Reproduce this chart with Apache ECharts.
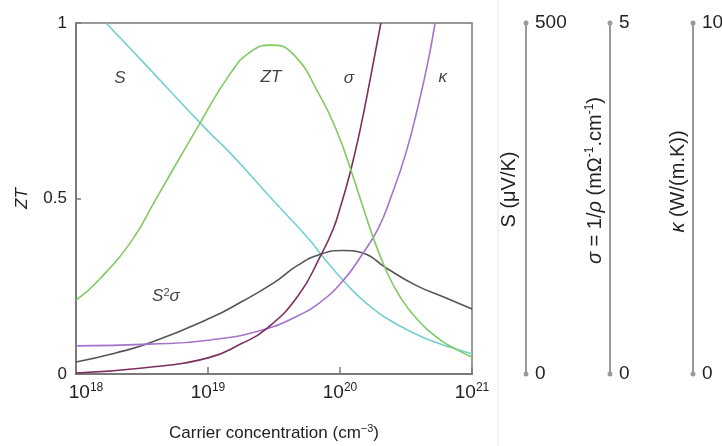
<!DOCTYPE html>
<html><head><meta charset="utf-8">
<script src="https://cdn.jsdelivr.net/npm/echarts@6/dist/echarts.min.js"></script>
<style>html,body{margin:0;padding:0;background:#fff}#c{width:722px;height:446px}</style>
</head><body><div id="c"></div>
<script>
// Carrier concentration (cm^-3) and values
const ztN = [1e18, 1.51e18, 2.7e18, 4e18, 8.7e18, 1.47e19, 2.1e19, 3.0e19, 4.4e19, 7.1e19, 9.5e19, 1.2e20, 1.48e20, 1.78e20, 2.24e20, 2.8e20, 3.8e20, 5.75e20, 7.8e20, 1e21];
const ztV = [0.21, 0.27, 0.385, 0.496, 0.715, 0.855, 0.918, 0.937, 0.912, 0.79, 0.69, 0.585, 0.48, 0.39, 0.295, 0.225, 0.158, 0.097, 0.068, 0.048];

const sN = [1.69e18, 3.16e18, 1e19, 1.47e19, 3.16e19, 5.9e19, 7.2e19, 1.05e20, 1.58e20, 2.8e20, 5.0e20, 9.1e20, 1e21];
const sV = [500, 446, 346, 315, 246, 191, 170, 134, 101, 69, 47, 31, 29];          // µV/K

const sigN = [1e18, 3.2e18, 1e19, 1.78e19, 2.75e19, 4.8e19, 7.2e19, 8.9e19, 1e20, 1.19e20, 1.41e20, 1.69e20, 2.04e20];
const sigV = [0.015, 0.085, 0.23, 0.43, 0.64, 1.11, 1.70, 2.07, 2.36, 2.86, 3.45, 4.19, 5.0]; // mΩ^-1 cm^-1

const kapN = [1e18, 3.6e18, 1.05e19, 2.75e19, 4.8e19, 6.8e19, 1.05e20, 1.48e20, 1.95e20, 2.4e20, 3.16e20, 4.0e20, 4.7e20, 5.25e20];
const kapV = [0.8, 0.85, 0.97, 1.28, 1.66, 1.99, 2.65, 3.42, 4.15, 4.98, 6.3, 7.8, 9.0, 10];      // W/(m K)

const s2sN = [1e18, 2.0e18, 3.6e18, 1.05e19, 1.78e19, 3.1e19, 4.8e19, 7.2e19, 1.05e20, 1.48e20, 2.24e20, 3.7e20, 6.3e20, 1e21];
const s2sV = [0.034, 0.06, 0.088, 0.16, 0.205, 0.258, 0.31, 0.342, 0.352, 0.345, 0.302, 0.254, 0.217, 0.185];

const xTickExps = [18, 19, 20, 21];
const yTicks = [0, 0.5, 1];

const curveLabels = ['S', 'ZT', 'σ', 'κ', 'S{sup|2}σ'];
const curveLabelN = [2.15e18, 3.0e19, 1.17e20, 6.0e20, 4.8e18];
const curveLabelV = [0.843, 0.846, 0.843, 0.846, 0.222];

const zip = (a, b) => a.map((v, i) => [v, b[i]]);
const AX = '#7a7a7a', SIDE = '#9a9a9a', TXT = '#222';
const NARROW = '"Liberation Sans Narrow", "Arial Narrow", "Liberation Sans", sans-serif';
const sideAxis = (max, offset) => ({
  type: 'value', min: 0, max: max, interval: max, position: 'right', offset: offset,
  axisLine: { show: true, symbol: ['circle', 'circle'], symbolSize: [5, 5], lineStyle: { color: SIDE, width: 2 } },
  axisTick: { show: false }, splitLine: { show: false },
  axisLabel: { margin: 9, fontSize: 19, color: TXT },
  nameLocation: 'middle', nameRotate: 90, nameMoveOverlap: false
});
const lineS = (color) => ({ type: 'line', smooth: 0.5, symbol: 'none', lineStyle: { color: color, width: 1.6 } });

const chart = echarts.init(document.getElementById('c'));
chart.setOption({
  animation: false,
  backgroundColor: '#fff',
  textStyle: { fontFamily: '"Liberation Sans", Arial, sans-serif' },
  grid: { left: 76, right: 250, top: 23, bottom: 72, show: true, borderColor: AX, borderWidth: 1.5, containLabel: false, outerBoundsMode: 'none' },
  xAxis: {
    type: 'log', logBase: 10, min: 1e18, max: 1e21,
    axisLine: { lineStyle: { color: AX, width: 2 } },
    axisTick: { inside: true, length: 7, lineStyle: { color: AX, width: 1.5 } },
    minorTick: { show: false }, splitLine: { show: false },
    axisLabel: {
      margin: 8, color: TXT,
      formatter: v => {
        const e = Math.round(Math.log10(v));
        if (!xTickExps.includes(e)) return '';
        return (e === xTickExps[0] ? '{b0|10}' : '{b|10}') + '{sup|' + e + '}';
      },
      rich: {
        b: { fontSize: 19, fontFamily: NARROW, color: TXT, lineHeight: 21 },
        b0: { fontSize: 19, fontFamily: NARROW, color: TXT, lineHeight: 21, padding: [0, 0, 0, 20] },
        sup: { fontSize: 12, fontFamily: NARROW, color: TXT, verticalAlign: 'top', lineHeight: 12 }
      }
    },
    name: '{b|Carrier concentration (cm}{sup|−3}{b|)}', nameLocation: 'middle', nameGap: 49, nameMoveOverlap: false,
    nameTextStyle: {
      rich: { b: { fontSize: 17, fontFamily: NARROW, color: TXT, lineHeight: 20 }, sup: { fontSize: 11, fontFamily: NARROW, color: TXT, verticalAlign: 'top', lineHeight: 11 } }
    }
  },
  yAxis: [
    {
      type: 'value', min: 0, max: 1, interval: 0.5,
      axisLine: { show: true, lineStyle: { color: AX, width: 2 } },
      axisTick: { show: true, inside: true, length: 5, lineStyle: { color: AX, width: 1.5 } },
      splitLine: { show: false },
      axisLabel: { margin: 9, fontSize: 17, color: TXT, formatter: v => yTicks.includes(v) ? String(v) : '' },
      name: 'ZT', nameLocation: 'middle', nameGap: 45, nameRotate: 90, nameMoveOverlap: false,
      nameTextStyle: { fontSize: 17, fontStyle: 'italic', color: TXT }
    },
    Object.assign(sideAxis(500, 54), {
      name: 'S (μV/K)', nameGap: -27,
      nameTextStyle: { fontSize: 20, color: TXT, padding: [0, 0, 0, 18] }
    }),
    Object.assign(sideAxis(5, 138), {
      name: '{i|σ}{n| = 1/}{i|ρ}{n| (mΩ}{s|-1}{n|.cm}{s|-1}{n|)}', nameGap: -26,
      nameTextStyle: {
        padding: [0, 0, 0, 36],
        rich: {
          n: { fontSize: 20, color: TXT, lineHeight: 22 },
          i: { fontSize: 20, color: TXT, fontStyle: 'italic', lineHeight: 22 },
          s: { fontSize: 12, color: TXT, verticalAlign: 'top', lineHeight: 12 }
        }
      }
    }),
    Object.assign(sideAxis(10, 221), {
      name: '{i|κ}{n| (W/(m.K))}', nameGap: -26,
      nameTextStyle: {
        padding: [0, 0, 0, 34],
        rich: {
          n: { fontSize: 20, color: TXT, lineHeight: 22 },
          i: { fontSize: 20, color: TXT, fontStyle: 'italic', lineHeight: 22 }
        }
      }
    })
  ],
  graphic: [
    { type: 'line', shape: { x1: 498, y1: 0, x2: 498, y2: 446 }, style: { stroke: '#e4e4e4', lineWidth: 1 }, z: -1 }
  ],
  series: [
    Object.assign(lineS('#74d0d0'), { name: 'S', yAxisIndex: 1, data: zip(sN, sV) }),
    Object.assign(lineS('#555555'), { name: 'S2sigma', yAxisIndex: 0, data: zip(s2sN, s2sV) }),
    Object.assign(lineS('#a673cc'), { name: 'kappa', yAxisIndex: 3, data: zip(kapN, kapV) }),
    Object.assign(lineS('#7c2f5e'), { name: 'sigma', yAxisIndex: 2, data: zip(sigN, sigV) }),
    Object.assign(lineS('#7fca62'), { name: 'ZT', yAxisIndex: 0, data: zip(ztN, ztV) }),
    {
      type: 'scatter', yAxisIndex: 0, symbolSize: 1, itemStyle: { color: 'transparent' },
      data: curveLabelN.map((n, i) => [n, curveLabelV[i], curveLabels[i]]),
      label: {
        show: true, position: 'inside', formatter: p => p.data[2],
        fontSize: 17, fontStyle: 'italic', color: '#111',
        rich: { sup: { fontSize: 11, fontStyle: 'normal', color: '#111', verticalAlign: 'top', lineHeight: 11 } }
      },
      silent: true
    }
  ]
});
</script>
</body></html>
